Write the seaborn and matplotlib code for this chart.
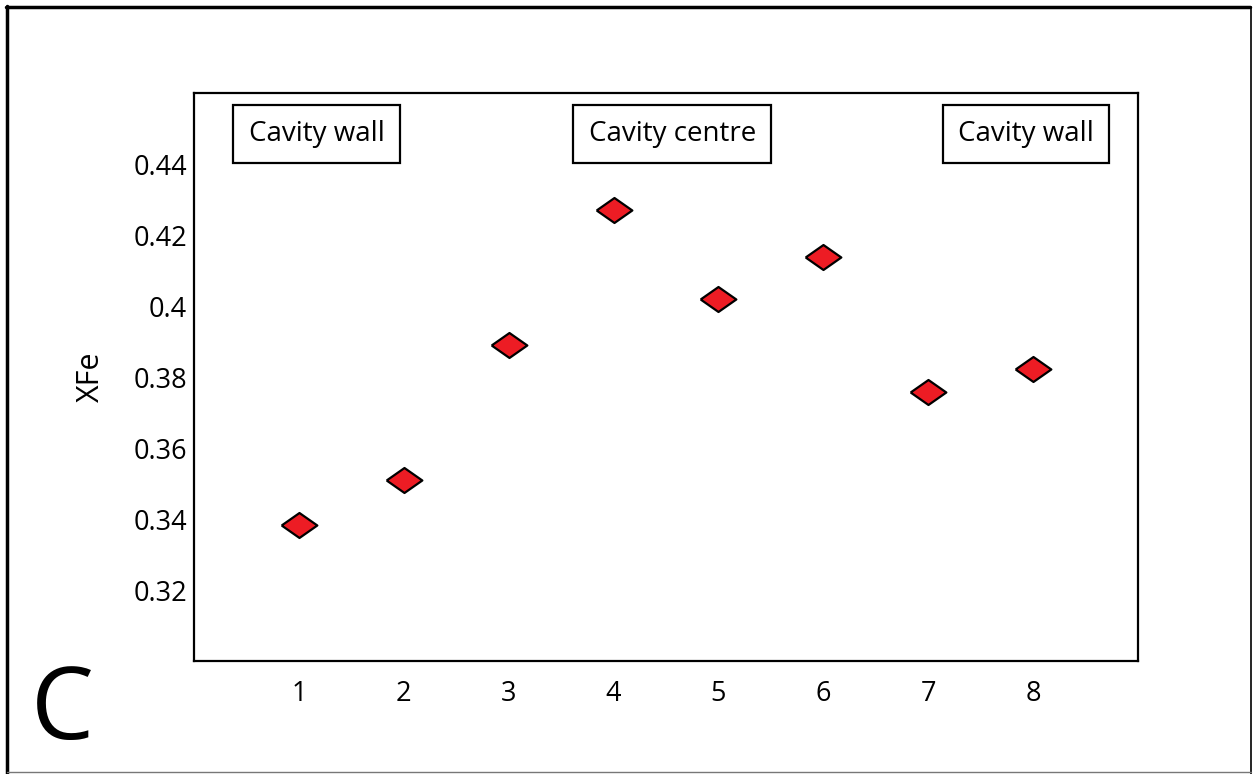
import pandas as pd
import matplotlib.pyplot as plt
import seaborn as sns
from matplotlib.lines import Line2D

# values
positions = [1, 2, 3, 4, 5, 6, 7, 8]
xfe = [0.3384, 0.3511, 0.3891, 0.4270, 0.4021, 0.4137, 0.3758, 0.3823]
yticks = [0.32, 0.34, 0.36, 0.38, 0.40, 0.42, 0.44]
ytick_labels = ['0.32', '0.34', '0.36', '0.38', '0.4', '0.42', '0.44']
zone_labels = ['Cavity wall', 'Cavity centre', 'Cavity wall']
zone_x = [1.17, 4.56, 7.93]
zone_y = 0.4485

df = pd.DataFrame({'pos': positions, 'XFe': xfe})

sns.set_style('white')
plt.rcParams['font.family'] = ['Open Sans', 'DejaVu Sans']
plt.rcParams['text.color'] = 'black'
plt.rcParams['xtick.color'] = 'black'
plt.rcParams['ytick.color'] = 'black'
plt.rcParams['axes.labelcolor'] = 'black'

fig = plt.figure(figsize=(12.53, 7.74), dpi=100)
ax = fig.add_axes([0.1548, 0.1460, 0.9082 - 0.1548, 0.8798 - 0.1460])

diamond = [(-1, 0), (0, 0.7), (1, 0), (0, -0.7), (-1, 0)]
sns.scatterplot(data=df, x='pos', y='XFe', marker=diamond, s=660,
                color='#ED1C24', edgecolor='black', linewidth=1.6, ax=ax, zorder=3)

ax.set_xlim(0, 9)
ax.set_ylim(0.30, 0.46)
ax.set_xticks(positions)
ax.set_xticklabels([str(p) for p in positions])
ax.set_yticks(yticks)
ax.set_yticklabels(ytick_labels)
ax.tick_params(axis='both', length=0, labelsize=19.5)
ax.tick_params(axis='x', pad=14)
ax.tick_params(axis='y', pad=5)
ax.set_xlabel('')
ax.set_ylabel('XFe', fontsize=22, labelpad=20)
for sp in ax.spines.values():
    sp.set_linewidth(1.6)
    sp.set_color('black')

for lbl, x in zip(zone_labels, zone_x):
    ax.text(x, zone_y, lbl, ha='center', va='center', fontsize=20,
            bbox=dict(boxstyle='square,pad=0.55', fc='white', ec='black', lw=1.6))

# panel letter
fig.text(62 / 1253, 1 - 713 / 774, 'C', ha='center', va='center', fontsize=72)

# outer frame
fig.add_artist(Line2D([7 / 1253, 7 / 1253], [0, 1 - 6 / 774], transform=fig.transFigure, color='black', lw=2.5))
fig.add_artist(Line2D([6 / 1253, 1250 / 1253], [1 - 7 / 774, 1 - 7 / 774], transform=fig.transFigure, color='black', lw=2.5))
fig.add_artist(Line2D([1251 / 1253, 1251 / 1253], [1 - 7 / 774, 0], transform=fig.transFigure, color='black', lw=1.2))
fig.add_artist(Line2D([7 / 1253, 1251 / 1253], [1 - 772 / 774, 1 - 772 / 774], transform=fig.transFigure, color='#777777', lw=1.0))

fig.savefig('out.png', dpi=100)
